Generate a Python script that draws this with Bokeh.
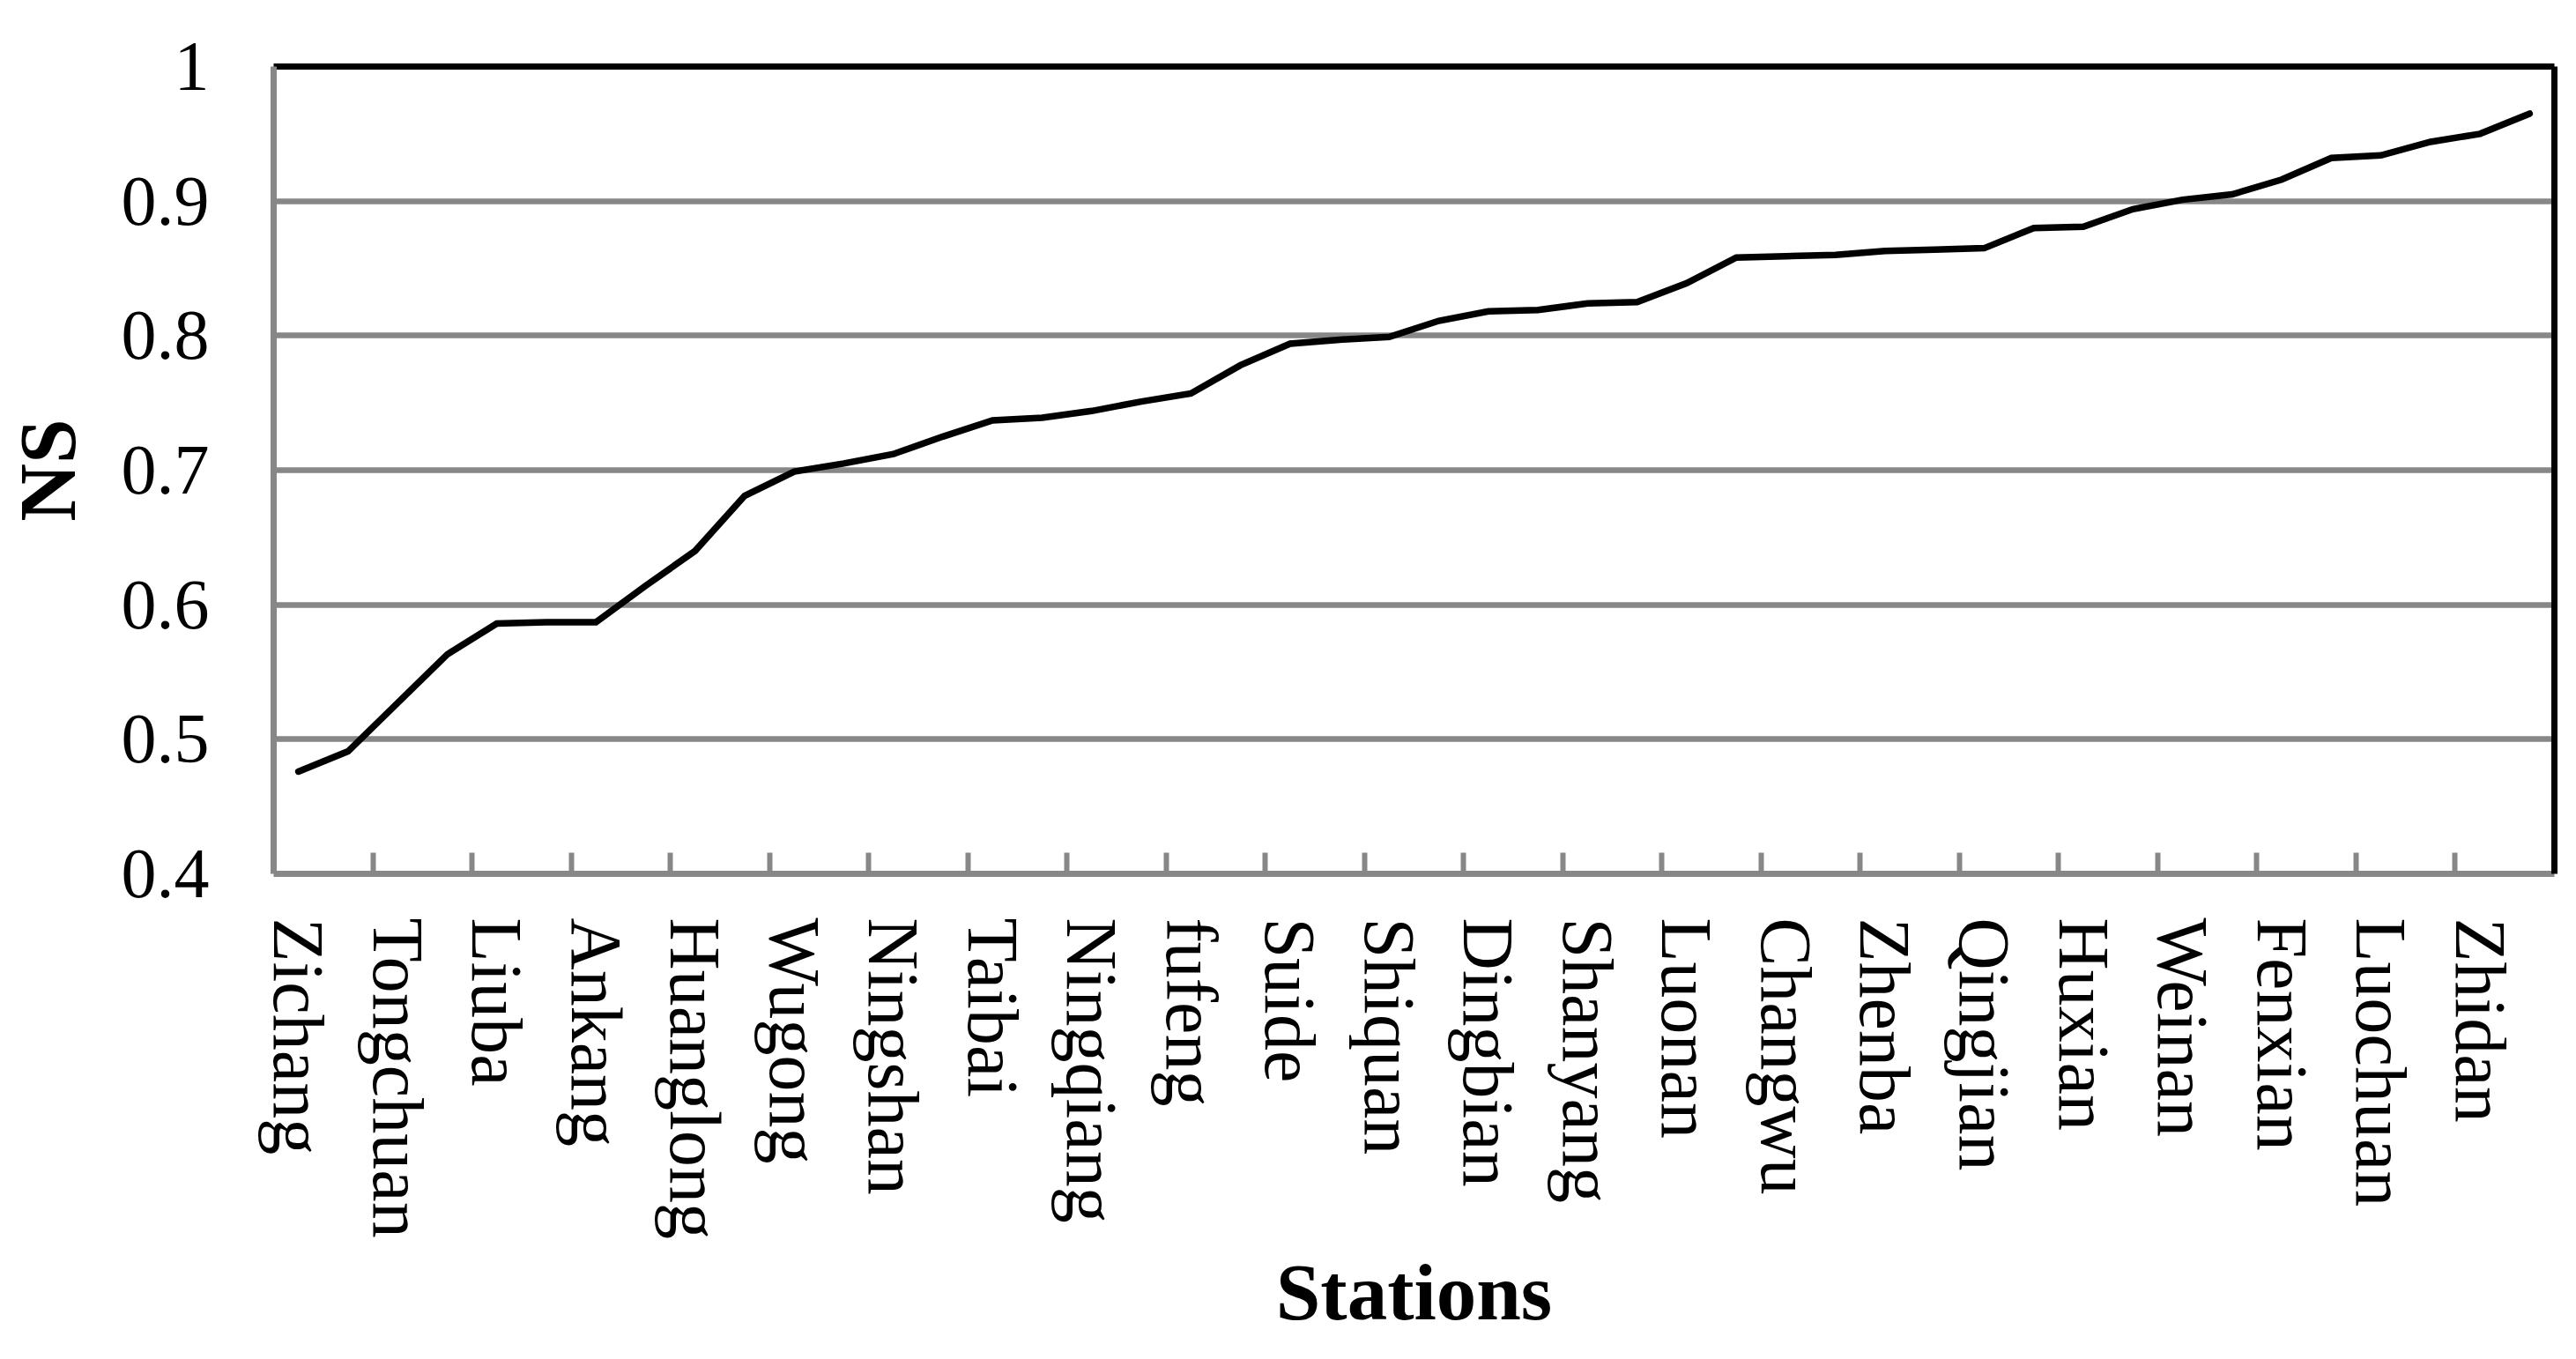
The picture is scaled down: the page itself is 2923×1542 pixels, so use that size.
from bokeh.plotting import figure
from bokeh.models import Range1d, FixedTicker, LinearAxis, CustomJSTickFormatter
from bokeh.embed import file_html
from bokeh.resources import INLINE

# Every second station is labelled on the category axis
labeled_stations = ["Zichang", "Tongchuan", "Liuba", "Ankang", "Huanglong", "Wugong",
                    "Ningshan", "Taibai", "Ningqiang", "fufeng", "Suide", "Shiquan",
                    "Dingbian", "Shanyang", "Luonan", "Changwu", "Zhenba", "Qingjian",
                    "Huxian", "Weinan", "Fenxian", "Luochuan", "Zhidan"]

# NS value of each of the 46 stations (sorted ascending)
ns_values = [0.476, 0.491, 0.527, 0.563, 0.586, 0.587, 0.587, 0.614, 0.640, 0.681,
             0.699, 0.705, 0.712, 0.725, 0.737, 0.739, 0.744, 0.751, 0.757, 0.778,
             0.794, 0.797, 0.799, 0.811, 0.818, 0.819, 0.824, 0.825, 0.839, 0.858,
             0.859, 0.860, 0.863, 0.864, 0.865, 0.880, 0.881, 0.894, 0.901, 0.905,
             0.916, 0.932, 0.934, 0.944, 0.950, 0.965]

y_ticks = [0.4, 0.5, 0.6, 0.7, 0.8, 0.9, 1.0]

n = len(ns_values)
xs = [i + 0.5 for i in range(n)]
label_pos = [2 * i + 0.5 for i in range(len(labeled_stations))]
tick_marks = [2 * i for i in range(1, len(labeled_stations))]

GRAY = "#878787"
FONT = "Liberation Serif"

p = figure(width=2907, height=1526, output_backend="svg", toolbar_location=None,
           x_range=Range1d(0, n), y_range=Range1d(0.4, 1.0),
           min_border_left=305, min_border_right=9, min_border_top=75,
           min_border_bottom=535, x_axis_label="Stations", y_axis_label="NS")
p.outline_line_color = None
p.background_fill_color = "white"
p.border_fill_color = "white"

p.line(xs, ns_values, line_color="black", line_width=7.5, line_join="miter", line_cap="round")

# x axis
xa = p.xaxis[0]
xa.ticker = FixedTicker(ticks=label_pos, minor_ticks=tick_marks)
xa.major_label_overrides = {pos: name for pos, name in zip(label_pos, labeled_stations)}
xa.major_label_orientation = "vertical"
xa.major_label_text_font = FONT
xa.major_label_text_font_size = "82px"
xa.major_label_text_color = "black"
xa.major_label_standoff = 50
xa.major_tick_line_color = None
xa.major_tick_in = 0
xa.major_tick_out = 0
xa.minor_tick_line_color = GRAY
xa.minor_tick_line_width = 6
xa.minor_tick_in = 24
xa.minor_tick_out = 0
xa.axis_line_color = GRAY
xa.axis_line_width = 7
xa.axis_label_text_font = FONT
xa.axis_label_text_font_style = "bold"
xa.axis_label_text_font_size = "91px"
xa.axis_label_text_color = "black"
xa.axis_label_standoff = 7

# y axis
ya = p.yaxis[0]
ya.ticker = FixedTicker(ticks=y_ticks)
ya.formatter = CustomJSTickFormatter(code="return tick.toFixed(1).replace(/\\.0$/, '');")
ya.major_label_text_font = FONT
ya.major_label_text_font_size = "80px"
ya.major_label_text_color = "black"
ya.major_label_standoff = 73
ya.major_tick_line_color = None
ya.major_tick_in = 0
ya.major_tick_out = 0
ya.minor_tick_line_color = None
ya.axis_line_color = GRAY
ya.axis_line_width = 7
ya.axis_label_text_font = FONT
ya.axis_label_text_font_style = "bold"
ya.axis_label_text_font_size = "91px"
ya.axis_label_text_color = "black"
ya.axis_label_standoff = 30

# grid
p.xgrid.visible = False
p.ygrid.ticker = FixedTicker(ticks=y_ticks)
p.ygrid.grid_line_color = GRAY
p.ygrid.grid_line_width = 6.5

# black border on top and right
for side in ("above", "right"):
    ax = LinearAxis(ticker=FixedTicker(ticks=[]), axis_line_color="black", axis_line_width=7,
                    major_tick_line_color=None, minor_tick_line_color=None,
                    major_label_text_font_size="0px")
    p.add_layout(ax, side)

open("out.html", "w").write(file_html(p, INLINE))
